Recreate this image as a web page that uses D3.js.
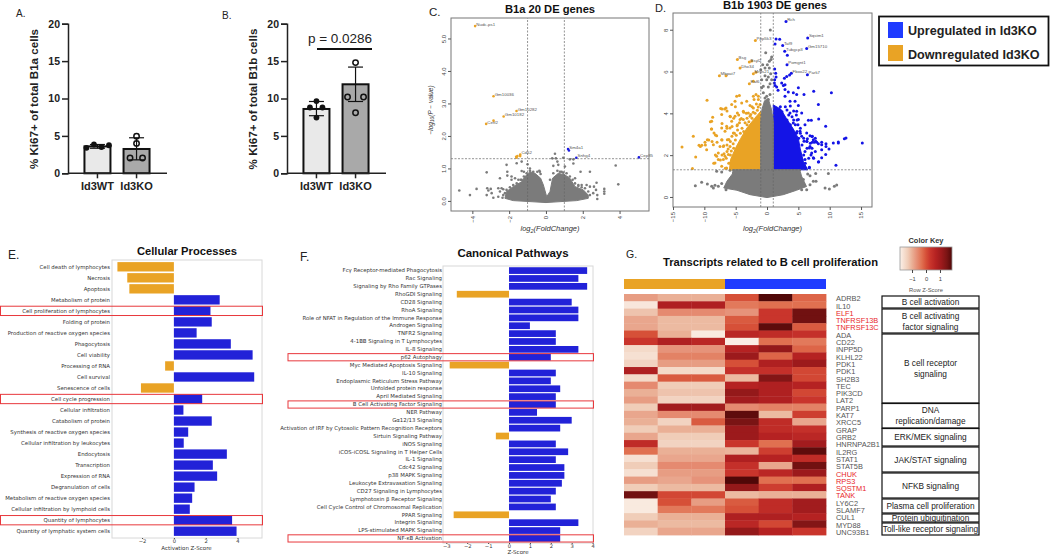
<!DOCTYPE html>
<html>
<head>
<meta charset="utf-8">
<script src="https://cdn.jsdelivr.net/npm/d3@7"></script>
<style>
  body { margin: 0; background: #fff; }
  svg { display: block; }
  text { font-family: "Liberation Sans", Arial, sans-serif; }
  .mpl text { font-family: "DejaVu Sans", sans-serif; }
</style>
</head>
<body>
<svg id="chart" width="1050" height="554"></svg>
<script>
// ---- panels A, B: bars with replicates
const barGroups = ['Id3WT', 'Id3KO']
const aMeans = [3.6, 3.25]
const aErrLow = [3.35, 1.8]
const aErrHigh = [3.85, 4.75]
const aWtPoints = [[-11, 3.4], [-3.5, 3.85], [4, 3.5], [11.5, 3.75]]
const aKoPoints = [[0, 4.95], [0, 4.0], [-6.5, 2.05], [6, 2.05]]
const bMeans = [8.6, 11.9]
const bErrLow = [7.7, 9.6]
const bErrHigh = [9.6, 14.2]
const bWtPoints = [[0, 9.65], [-6.5, 8.8], [6, 8.8], [0, 7.45]]
const bKoPoints = [[0, 14.8], [-8, 10.2], [8, 10.2], [0, 8.1]]

// ---- panel C: volcano B1a
const cCloudLeft = [[0.04,0.13],[-0.14,0.49],[-0.29,0.7],[-0.6,0.85],[-0.87,0.9],[-1.14,0.75],[-1.32,0.59],[-1.78,0.44],[-2.14,0.29],[-2.23,0.08],[-1.78,0.01],[0,-0.05]]
const cCloudRight = [[0.04,0.13],[0.22,0.29],[0.36,0.7],[0.67,0.85],[1.03,0.8],[1.3,0.7],[1.58,0.44],[2.03,0.34],[2.3,0.18],[2.3,0.08],[1.67,0.01],[0,-0.05]]
const cGray = [[-4.71,0.32],[-4.13,0.18],[-3.77,0.37],[-3.22,0.88],[-3.19,0.39],[-3,0.37],[-3.13,0.32],[-2.95,0.24],[-3.22,0.18],[-2.86,0.1],[-2.59,0.39],[-2.41,0.39],[-2.5,0.29],[-2.32,0.36],[-2.59,0.13],[-2.36,0.1],[-2.5,0.7],[-2.1,0.9],[-2.1,0.78],[-2.14,1.11],[-1.87,0.75],[-1.59,1.16],[-1.32,1.21],[-1,1.13],[-1.32,0.92],[-1.2,0.9],[-1.5,0.65],[-1.32,0.65],[0.49,1.45],[0.34,1.31],[0.62,1.21],[0.4,1.08],[0.67,1.11],[0.94,1.33],[0.54,1.31],[0.85,0.9],[1.03,1.06],[1.49,1.15],[1.88,0.9],[2.39,0.9],[1.3,1.28],[1.49,1.28],[3.79,1.09],[3.93,0.51],[2.75,0.56],[2.72,0.34],[3.17,0.37],[3.17,0.29],[3.17,0.22],[2.79,0.18],[2.79,0.06],[2.57,0.24],[1.76,0.49],[1.94,0.49],[2.21,0.49],[2.39,0.44],[2.61,0.44],[1.58,0.7],[-0.87,1],[-0.36,0.93],
  [-0.87,0.93],[-0.69,0.9],[-0.47,0.9],[-0.33,0.9],[-0.29,0.83],[-1.05,0.85],[-1.2,0.75],[-1.38,0.65],[-1.59,0.54],[-1.78,0.49],[-1.96,0.42],[-2.14,0.34],[-2.23,0.24],[0.22,0.65],[0.4,0.85],[0.62,0.93],[0.76,0.9],[0.94,0.87],[1.12,0.85],[1.3,0.75],[1.45,0.65],[1.58,0.54],[1.76,0.46],[1.94,0.42],[2.12,0.39],[2.3,0.29],[2.39,0.18],[-2.32,0.18],[-1.87,0.65],[-1.68,0.7]]
const cDown = [[-3.85,5.38,'Nudc-ps1'],[-2.85,3.22,'Gm10036'],[-1.6,2.77,'Gm10282'],[-2.3,2.6,'Gm10182'],[-3.25,2.37,'Cetf2'],[-2.85,2.47,''],[-1.4,1.43,'Cd52'],[-1.6,1.33,''],[-1.55,1.38,''],[-1.62,1.36,''],[-1.4,1.38,'']]
const cUp = [[1.2,1.6,'Sm4a1'],[1.25,1.55,''],[1.65,1.33,'Snhg4'],[5.05,1.34,'Cep85']]

// ---- panel D: volcano B1b
const dGrayLow = [[-5.5,1.3],[-5.4,1.15],[-6.4,0.75],[-6.9,0.43],[-4.8,0.32],[-2.7,0.11],[0,-0.03],[2.6,0.11],[4.7,0.32],[6.3,0.5],[5.5,1],[5.3,1.23],[5.4,1.3]]
const dGrayColumn = [[-1,1.3],[-1,3.6],[-0.8,4.2],[-0.4,4.6],[0.2,4.7],[0.7,4.2],[1,3.6],[1,1.3]]
const dOrangeDense = [[-1,1.3],[-6,1.3],[-5.8,1.8],[-5,2.35],[-4.2,2.8],[-3.2,3.3],[-2,3.75],[-1,4.1]]
const dBlueDense = [[1,1.3],[1,4.4],[2.2,4.2],[3.1,3.75],[4.2,3.25],[5,2.8],[5.3,2.3],[5.8,1.7],[6.5,1.3]]
const dGray = [[0.53,7.99],[-0.21,6.9],[0.74,6.7],[0.64,6.57],[0.37,6.49],[0.05,6.33],[-0.69,6.33],[-0.32,6.17],[0.37,6.17],[-1,6.09],[0.59,5.9],[-0.32,5.8],[0.21,5.74],[-0.85,5.61],[-0.05,5.61],[0.74,5.61],[0.48,5.42],[-0.59,5.3],[-0.85,5.22],[0.21,5.26],[-0.59,4.98],[-0.05,4.82],[0.48,4.9],[-0.32,4.74],[0.21,4.66],[-11.44,0.54],[-10.43,0.7],[-9.52,0.62],[-8.83,0.51],[-8.3,0.56],[-8.56,0.43],[-7.77,0.51],[-7.23,0.64],[-6.54,0.35],[-8.03,1.23],[-7.23,1.2],[-5.9,1.28],[-5.37,1.15],[-4.95,1.07],[6.49,1.1],[7.77,1.12],[9.79,1.12],[9.26,0.43],[9.95,0.38],[10.74,0.51],[11.12,0.57],[7.82,0.75],[7.39,0.75],[6.86,0.59],[6.33,0.35],[5.53,0.35],[6.86,1.02],[5,1.07],[4.2,1.15],[5.8,0.83]]
const dDown = [[-1.86,7.48,'Ppp5k3'],[-4.73,6.57,'Bsg'],[-2.82,6.46,'Bsyl2'],[-2.45,6.5,''],[-4.3,6.17,'Dhx34'],[-7.6,5.8,'Mbpat7'],[-6.54,5.8,''],[-2.18,5.9,'Mrps21'],[-1.76,5.96,''],[-2.82,5.42,'Eaf6'],[-2.18,5.53,''],
  [-9.57,4.63],[-7.39,4.23],[-6.54,4.26],[-8.67,3.81],[-7.23,3.94],[-5.9,3.86],[-8.83,3.62],[-8.83,3.25],[-8.46,3.06],[-11.76,2.9],[-9.52,2.74],[-9.89,2.62],[-10.4,2.47],[-10.85,2.47],[-13.56,2.39],[-11.38,1.91],[-11.9,1.36],[-9.63,2.26],[-8.03,2.93],[-7.23,2.74],[-8.56,2.5],[-7.5,2.42],[-7.77,2.1],[-8.03,1.95],[-8.3,1.63],[-6.97,1.79],[-7.77,1.79],[-7.23,1.47],
  [-4.84,4.82],[-4.41,4.85],[-5.64,4.42],[-5.1,4.58],[-4.04,4.5],[-3.24,4.58],[-2.71,4.37],[-2.18,4.82],[-1.76,4.9],[-1.38,4.82],[-2.07,4.66],[-1.38,4.66],[-4.73,4.02],[-3.78,4.1],[-2.98,4.02],[-5.64,3.62],[-5.1,3.86],[-4.3,3.7],[-5.9,3.3],[-6.44,3.38],[-6.7,3.14],[-7.23,3.3],[-5.37,3.06],[-6.33,2.74],[-6.97,2.42],[-5.9,2.42],[-6.17,2.03],[-6.7,1.95],[-5.9,1.63],[-6.44,1.39],[-6.86,2.07],[-4.73,3.46],[-3.78,3.7],[-2.71,3.86],[-2.18,4.26],[-1.54,4.15],[-1.12,4.42],
  [-7.18,4.21],[-6.75,4.21],[-6.38,4.11],[-5.05,4.32],[-3.72,4.05],[-2.39,4.32],[-5.85,3.84],[-5.32,3.76],[-4.52,3.92],[-3.19,3.76],[-9.04,3.6],[-8.88,3.25],[-7.18,3.52],[-6.38,3.29],[-5.58,3.37],[-4.78,3.41],[-3.99,3.29],[-8.24,2.97],[-9.3,2.73],[-10.63,2.41],[-9.83,2.49],[-8.77,2.65],[-7.97,2.62],[-7.18,2.73],[-6.38,2.49],[-5.85,2.65],[-5.05,2.73],[-8.24,2.01],[-7.18,2.01],[-8.5,1.61],[-7.44,1.77],[-6.38,2.17],[-5.85,2.01],[-5.32,2.33],[-6.65,1.37],[-4.25,3.05],[-3.72,3.13],[-3.19,3.45],[-2.39,3.76],[-1.86,3.52],[-6.11,1.61],
  [-4.7,3.2],[-4.4,3.55],[-5.2,3.05],[-5.6,2.9],[-4.9,2.95],[-6.1,2.75],[-5.4,2.55],[-6.9,2.45],[-6.2,2.3],[-6.5,1.85],[-5.7,2.2],[-3.5,3.55],[-2.9,3.6],[-2.6,3.95],[-3.3,4.0],[-1.9,4.0],[-1.4,4.3],[-4.1,3.75],[-2.2,4.05],[-1.7,4.45]]
const dUp = [[3.03,8.39,'Rch'],[1.44,7.56,''],[2.02,7.55,''],[6.49,7.61,'Sqstm1'],[1.28,7.32,''],[2.5,7.24,'Taf9'],[6.33,7.1,'Gm15710'],[2.82,6.97,'Tubgcp3'],[3.24,6.78,''],[3.19,6.33,'Pomgnt1'],[1.22,6.12,''],[1.38,5.92,''],[3.88,5.92,'Fbxo22'],[6.44,5.85,'Park7'],[3.6,5.83,''],[3.14,5.76,''],[2.77,5.68,''],
  [1.44,5.74],[1.22,5.61],[1.17,5.45],[2.34,5.45],[1.28,5.33],[2.61,5.33],[2.87,5.37],[1.54,5.26],[1.76,5.1],[2.87,5.14],[2.87,4.82],[3.4,5.02],[4.2,4.98],[5,5.22],[5.9,4.9],[7.45,5.06],[10.27,4.98],[8.19,4.42],[6.6,3.67],[7.07,3.67],[8.24,3.73],[9.36,3.38],[4.73,4.9],[5,4.37],[3.67,4.58],[4.47,4.58],[5.53,4.02],[6.06,3.46],[5,3.7],[4.73,4.1],[5.27,3.14],[6.33,3.06],
  [6.86,2.93],[7.23,2.9],[6.44,2.78],[7.39,2.74],[7.77,2.66],[7.23,2.62],[7.55,2.62],[7.93,2.62],[8.72,2.62],[8.72,2.5],[8.19,2.54],[9.41,2.55],[9.41,2.42],[10.58,2.58],[9.89,2.3],[11.38,2.63],[11.38,2.58],[12.34,2.78],[12.6,2.82],[15.2,2.58],[11,1.52],[9.36,2.03],[8.72,2.26],[8.72,1.87],[8.19,1.67],[6.86,2.42],[7.13,2.1],[7.39,1.87],[6.76,1.42],[5.9,2.66],[6.33,2.66],[6.76,2.34],[6.06,2.18],[6.06,1.79],[5.8,1.47],[5.53,2.9],[4.73,3.06],[4.2,3.54],[3.67,4.02],
  [1.33,4.24],[2.13,4.32],[2.92,4.32],[3.72,4.35],[3.19,4.16],[4.25,4.11],[2.39,4.08],[3.46,3.92],[3.99,3.84],[4.79,3.68],[3.19,3.68],[4.52,3.45],[5.32,3.29],[4.52,3.05],[5.32,3.05],[5.85,2.81],[6.38,2.65],[7.18,2.89],[6.91,2.57],[7.71,2.81],[6.38,2.33],[5.58,2.49],[7.18,2.33],[7.71,2.17],[5.85,2.01],[6.65,1.85],[7.44,1.85],[8.24,1.69],[7.02,2.01],[6.11,1.61],[5.58,1.77],[6.75,1.4],[6.11,1.37],[4.68,3.92],[5.05,2.81],[4.79,3.13],[4.25,3.68],[3.72,3.45],[4.94,3.45]]

// ---- panel E: cellular processes
const eTerms = ['Cell death of lymphocytes','Necrosis','Apoptosis','Metabolism of protein','Cell proliferation of lymphocytes','Folding of protein','Production of reactive oxygen species','Phagocytosis','Cell viability','Processing of RNA','Cell survival','Senescence of cells','Cell cycle progression','Cellular infiltration','Catabolism of protein','Synthesis of reactive oxygen species','Cellular infiltration by leukocytes','Endocytosis','Transcription','Expression of RNA','Degranulation of cells','Metabolism of reactive oxygen species','Cellular infiltration by lymphoid cells','Quantity of lymphocytes','Quantity of lymphatic system cells']
const eScores = [-3.55,-2.93,-2.8,2.88,2.3,2.38,1.43,3.58,4.95,-0.55,5.05,-2.07,1.78,0.6,2.38,0.9,0.62,3.33,2.45,2.72,1.3,1.15,1,3.66,3.94]
const eMarked = ['Cell proliferation of lymphocytes','Cell cycle progression','Quantity of lymphocytes']

// ---- panel F: canonical pathways
const fTerms = ['Fcγ Receptor-mediated Phagocytosis','Rac Signaling','Signaling by Rho Family GTPases','RhoGDI Signaling','CD28 Signaling ','RhoA Signaling','Role of NFAT in Regulation of the Immune Response','Androgen Signaling','TNFR2 Signaling','4-1BB Signaling in T Lymphocytes','IL-8 Signaling','p62 Autophagy','Myc Mediated Apoptosis Signaling','IL-10 Signaling','Endoplasmic Reticulum Stress Pathway','Unfolded protein response','April Mediated Signaling','B Cell Activating Factor Signaling','NER Pathway','Gα12/13 Signaling','Activation of IRF by Cytosolic Pattern Recognition Receptors','Sirtuin Signaling Pathway','iNOS Signaling','iCOS-iCOSL Signaling in T Helper Cells','IL-1 Signaling','Cdc42 Signaling','p38 MAPK Signaling','Leukocyte Extravasation Signaling','CD27 Signaling in Lymphocytes','Lymphotoxin β Receptor Signaling','Cell Cycle Control of Chromosomal Replication','PPAR Signaling','Integrin Signaling','LPS-stimulated MAPK Signaling','NF-κB Activation']
const fScores = [3.74,3.32,3.74,-2.5,3,3.32,3.32,1,2.24,2.24,3.32,2,-2.84,2.24,2,2.45,2.24,2.24,1.34,3,2.45,-0.63,2.24,2.83,2.24,2.65,2.65,2.53,2.24,2,2.24,-2.65,3.32,2.45,2.45]
const fMarked = ['p62 Autophagy','B Cell Activating Factor Signaling','NF-κB Activation']

// ---- panel G: heatmap
const genes = ['ADRB2','IL10','ELF1','TNFRSF13B','TNFRSF13C','ADA','CD22','INPP5D','KLHL22','PDK1','PDK1 ','SH2B3','TEC','PIK3CD','LAT2','PARP1','KAT7','XRCC5','GRAP','GRB2','HNRNPA2B1','IL2RG','STAT1','STAT5B','CHUK','RPS3','SQSTM1','TANK','LY6C2','SLAMF7','CUL1','MYD88','UNC93B1']
const redGenes = ['ELF1','TNFRSF13B','TNFRSF13C','CHUK','RPS3','SQSTM1','TANK']
const samples = ['KO1','KO2','KO3','WT1','WT2','WT3']
const rowZ = [
  [-0.8,-1,-1,0,2,-0.2],[-1.7,0.8,0.8,-0.4,-0.3,-0.3],[-1.2,-0.6,-0.6,-0.7,0.3,1.6],[-0.9,-1.1,-1.1,-0.1,0.3,1.6],
  [-0.9,-1.1,-1.1,0,1.8,-0.1],[0,-1,-1.75,0.6,0.5,0.4],[0.3,0.8,0.6,-1.8,-0.3,-0.4],[-1.5,-0.7,-0.7,0.7,1.2,-0.2],
  [-1.6,-0.5,-0.5,1.1,-0.2,0.7],[-1.4,-0.8,-0.8,0,0.8,1.1],[0.8,-1.5,-1.5,0.4,0.4,0.1],[-1.5,-0.1,-0.1,-1.1,1.4,0.1],
  [-0.6,-1.3,-1.3,0.7,0.8,0.7],[-1,-1.2,-1.2,1.2,0.8,0.1],[-0.8,-1.4,-1.4,1,0.8,0.3],[-1.3,1,1,-0.6,-0.5,-0.5],
  [-0.9,-0.6,-0.6,1.8,-1.1,0.2],[-1,-1.4,-0.1,1.5,0.5,-0.9],[-1.3,-1,-1,1.1,0.5,0.4],[-0.9,-1.3,-1.3,1.1,0.7,0.6],
  [0.5,-1.4,-1.4,0.3,-0.3,1],[-0.3,-1,-1,-1.05,0.2,1.8],[-1.6,-0.9,-0.9,0.8,0.7,0.5],[-1.3,-0.6,-0.6,0.4,-0.9,1.6],
  [-1.6,-0.8,-0.8,0.3,0.6,1.1],[-0.8,-0.9,-0.7,2.1,-0.3,-0.3],[-1.3,-1.1,-1.1,1.2,0.2,0.8],[1.6,0.1,0.1,-1.1,-1,-1],
  [-1.75,0,-0.8,-0.1,0.5,1],[-1.75,-0.4,-0.4,0,0.5,1],[-1.3,-1,-1,0.8,0.8,0.7],[-1,-1.1,-1.1,0.6,0.1,1.4],[-1.4,-0.9,-0.9,1.2,0.7,0.3]]
const keyTicks = [-1, 0, 1]
const pathwayNames = [['B cell activation'],['B cell activating','factor signaling'],['B cell receptor','signaling'],['DNA','replication/damage'],['ERK/MEK signaling'],['JAK/STAT signaling'],['NFKB signaling'],['Plasma cell proliferation'],['Protein ubiquitination'],['Toll-like receptor signaling']]
const legendNames = ['Upregulated in Id3KO', 'Downregulated Id3KO']

const ORANGE = '#e9a325', BLUE = '#2222d8', LEG_BLUE = '#1f3bff'
const svg = d3.select('#chart')

function panelLetter(s, x, y, size) {
  svg.append('text').attr('x', x).attr('y', y).attr('font-size', size).attr('fill', '#222').text(s)
}
function title(s, x, y, size) {
  svg.append('text').attr('x', x).attr('y', y).attr('font-size', size).attr('font-weight', 'bold')
    .attr('text-anchor', 'middle').attr('fill', '#111').text(s)
}

panelLetter('A.', 16, 17, 10)
panelLetter('B.', 222, 19, 10)
panelLetter('C.', 429, 16, 11.5)
panelLetter('D.', 655, 12, 11)
panelLetter('E.', 8, 259, 12)
panelLetter('F.', 300, 261, 12)
panelLetter('G.', 626, 258, 10.5)

// ---- bar panels
function drawBars(left, right, label, means, errLow, errHigh, wt, ko) {
  let g = svg.append('g')
  let y = d3.scaleLinear().domain([0, 20]).range([173.3, 23.7])
  let x = d3.scaleBand().domain(barGroups).range([left + 6, left + 92]).padding(0.2)
  let cx = d => x(d) + x.bandwidth() / 2

  g.selectAll('rect').data(barGroups).join('rect')
    .attr('x', d => cx(d) - 13)
    .attr('width', 26)
    .attr('y', (d, i) => y(means[i]))
    .attr('height', (d, i) => y(0) - y(means[i]))
    .attr('fill', (d, i) => i == 0 ? '#e9e9e9' : '#a9a9a9')
    .attr('stroke', '#111').attr('stroke-width', 2)

  barGroups.forEach((d, i) => {
    g.append('line').attr('x1', cx(d)).attr('x2', cx(d)).attr('y1', y(errLow[i])).attr('y2', y(errHigh[i]))
      .attr('stroke', '#111').attr('stroke-width', 1.2)
    ;[errLow[i], errHigh[i]].forEach(v => {
      g.append('line').attr('x1', cx(d) - 7.5).attr('x2', cx(d) + 7.5).attr('y1', y(v)).attr('y2', y(v))
        .attr('stroke', '#111').attr('stroke-width', 1.2)
    })
  })

  g.selectAll('circle.wt').data(wt).join('circle').attr('class', 'wt')
    .attr('cx', d => cx('Id3WT') + d[0]).attr('cy', d => y(d[1])).attr('r', 2.9).attr('fill', '#111')
  g.selectAll('circle.ko').data(ko).join('circle').attr('class', 'ko')
    .attr('cx', d => cx('Id3KO') + d[0]).attr('cy', d => y(d[1])).attr('r', 2.7)
    .attr('fill', 'none').attr('stroke', '#111').attr('stroke-width', 1.5)

  let yAxis = g.append('g').attr('transform', 'translate(' + left + ',0)')
    .call(d3.axisLeft(y).tickValues([0, 5, 10, 15, 20]).tickSize(6).tickPadding(2))
  let xAxis = g.append('g').attr('transform', 'translate(0,' + y(0) + ')')
    .call(d3.axisBottom(x).tickSize(5).tickPadding(4))
  xAxis.select('.domain').attr('d', 'M' + left + ',0H' + right)
  for (let a of [yAxis, xAxis]) {
    a.selectAll('path,line').attr('stroke', '#222').attr('stroke-width', 1.5)
    a.selectAll('text').attr('font-family', '"Liberation Sans"').attr('font-weight', 'bold').attr('fill', '#222')
  }
  yAxis.selectAll('text').attr('font-size', 10.5)
  xAxis.selectAll('text').attr('font-size', 11)

  g.append('text').attr('transform', 'translate(' + (left - 30) + ',99) rotate(-90)')
    .attr('text-anchor', 'middle').attr('font-size', 11.6).attr('font-weight', 'bold').attr('fill', '#222').text(label)
}
drawBars(68, 167, '% Ki67+ of total B1a cells', aMeans, aErrLow, aErrHigh, aWtPoints, aKoPoints)
drawBars(287, 386, '% Ki67+ of total B1b cells', bMeans, bErrLow, bErrHigh, bWtPoints, bKoPoints)
svg.append('text').attr('x', 340).attr('y', 43).attr('font-size', 13.5).attr('text-anchor', 'middle').attr('fill', '#222').text('p = 0.0286')
svg.append('line').attr('x1', 317).attr('x2', 372).attr('y1', 49).attr('y2', 49).attr('stroke', '#111').attr('stroke-width', 2)

// ---- volcano panels
function drawVolcano(opt) {
  let g = svg.append('g')
  let x = opt.x, y = opt.y
  let shape = d3.line().x(d => x(d[0])).y(d => y(d[1]))

  opt.dots.forEach(s => {
    g.append('g').selectAll('circle').data(s.points).join('circle')
      .attr('cx', d => x(d[0])).attr('cy', d => y(d[1])).attr('r', opt.r).attr('fill', s.color)
  })
  opt.areas.forEach(a => {
    g.append('path').attr('d', shape(a.points) + 'Z').attr('fill', a.color).attr('stroke', a.color).attr('stroke-width', 1)
  })
  opt.dots.forEach(s => {
    g.append('g').selectAll('text').data(s.points.filter(d => d[2])).join('text')
      .attr('x', d => x(d[0]) + 1.2).attr('y', d => y(d[1]) - 0.4)
      .attr('font-size', 4.4).attr('font-family', '"DejaVu Sans"').attr('fill', '#555').text(d => d[2])
  })

  let [x0, x1] = x.range(), [y0, y1] = y.range()
  let dash = (a, b, c, d) => g.append('line').attr('x1', a).attr('y1', b).attr('x2', c).attr('y2', d)
    .attr('stroke', '#666').attr('stroke-width', 0.7).attr('stroke-dasharray', '2,1.5')
  dash(x0, y(1.3), x1, y(1.3))
  dash(x(-1), y0, x(-1), y1)
  dash(x(1), y0, x(1), y1)

  g.append('rect').attr('x', x0).attr('y', y1).attr('width', x1 - x0).attr('height', y0 - y1)
    .attr('fill', 'none').attr('stroke', '#777').attr('stroke-width', 1)

  let bottom = g.append('g').attr('transform', 'translate(0,' + y0 + ')')
    .call(d3.axisBottom(x).tickValues(opt.xTicks).tickSize(3).tickPadding(2))
  let leftAxis = g.append('g').attr('transform', 'translate(' + x0 + ',0)')
    .call(d3.axisLeft(y).tickValues(opt.yTicks).tickSize(3).tickPadding(2))
  bottom.select('.domain').remove()
  leftAxis.select('.domain').remove()
  bottom.selectAll('line').attr('stroke', '#555')
  leftAxis.selectAll('line').attr('stroke', '#555')
  bottom.selectAll('text').attr('font-size', 6).attr('fill', '#444').attr('font-family', '"DejaVu Sans"')
    .attr('transform', 'rotate(-90)').attr('text-anchor', 'end').attr('x', -5).attr('y', 0).attr('dy', '0.32em')
  leftAxis.selectAll('text').attr('font-size', 6).attr('fill', '#444').attr('font-family', '"DejaVu Sans"')
    .attr('text-anchor', 'middle').attr('transform', 'rotate(-90,-5,0)')
    .attr('x', -5).attr('y', 0).attr('dy', 0)

  let xl = g.append('text').attr('x', (x0 + x1) / 2).attr('y', 231).attr('text-anchor', 'middle')
    .attr('font-size', 7.5).attr('font-style', 'italic').attr('font-family', '"DejaVu Sans"').attr('fill', '#333')
  xl.append('tspan').text('log')
  xl.append('tspan').attr('dy', 1.5).attr('font-size', 5.5).text('2')
  xl.append('tspan').attr('dy', -1.5).text('(FoldChange)')
}

drawVolcano({
  x: d3.scaleLinear().domain([-5.16, 5.6]).range([451, 649]),
  y: d3.scaleLinear().domain([-0.31, 5.63]).range([211, 18]),
  xTicks: [-4, -2, 0, 2, 4], yTicks: [0, 1, 2, 3, 4, 5], r: 1.3,
  areas: [{ points: cCloudLeft, color: '#7b7b7b' }, { points: cCloudRight, color: '#7b7b7b' }],
  dots: [{ points: cGray, color: '#7b7b7b' }, { points: cDown, color: ORANGE }, { points: cUp, color: '#1a1ae0' }]
})
let cy = svg.append('text').attr('transform', 'translate(433,110) rotate(-90)').attr('text-anchor', 'middle')
  .attr('font-size', 6.5).attr('font-style', 'italic').attr('font-family', '"DejaVu Sans"').attr('fill', '#333')
cy.append('tspan').text('\u2212log')
cy.append('tspan').attr('dy', 1.2).attr('font-size', 4.8).text('10')
cy.append('tspan').attr('dy', -1.2).text('(P \u2212 value)')

drawVolcano({
  x: d3.scaleLinear().domain([-15.0, 16.75]).range([673, 872]),
  y: d3.scaleLinear().domain([-0.48, 8.8]).range([207, 13]),
  xTicks: [-15, -10, -5, 0, 5, 10, 15], yTicks: [0, 2, 4, 6, 8], r: 1.5,
  areas: [{ points: dOrangeDense, color: ORANGE }, { points: dBlueDense, color: '#1414e6' },
    { points: dGrayLow, color: '#7b7b7b' }, { points: dGrayColumn, color: '#7b7b7b' }],
  dots: [{ points: dGray, color: '#7b7b7b' }, { points: dDown, color: ORANGE }, { points: dUp, color: '#1414e6' }]
})

title('B1a 20 DE genes', 550, 13, 11.2)
title('B1b 1903 DE genes', 775, 9, 11.3)

// ---- legend
svg.append('rect').attr('x', 879).attr('y', 16.5).attr('width', 169.5).attr('height', 49)
  .attr('fill', '#fff').attr('stroke', '#111').attr('stroke-width', 1.8)
legendNames.forEach((d, i) => {
  svg.append('rect').attr('x', 888).attr('y', 22 + i * 23).attr('width', 15).attr('height', 16)
    .attr('fill', i == 0 ? LEG_BLUE : ORANGE)
  svg.append('text').attr('x', 908).attr('y', 35 + i * 24).attr('font-size', 12.6).attr('font-family', 'Lato')
    .attr('font-weight', 'bold').attr('fill', '#222').text(d)
})

// ---- horizontal bar panels
function drawZBars(terms, scores, marked, x, yRange, boxTop, boxBottom, markLeft, markH, labelX, xTicks, axisLabel, axisLabelX, axisLabelY) {
  let g = svg.append('g').attr('class', 'mpl')
  let y = d3.scaleBand().domain(terms).range(yRange).padding(0.15)
  let x0 = x.range()[0], x1 = x.range()[1]

  g.append('rect').attr('x', x0).attr('y', boxTop).attr('width', x1 - x0).attr('height', boxBottom - boxTop)
    .attr('fill', 'none').attr('stroke', '#d8d8d8').attr('stroke-width', 1)

  g.selectAll('rect.bar').data(terms).join('rect').attr('class', 'bar')
    .attr('x', (d, i) => Math.min(x(0), x(scores[i])))
    .attr('width', (d, i) => Math.abs(x(scores[i]) - x(0)))
    .attr('y', d => y(d))
    .attr('height', y.bandwidth())
    .attr('fill', (d, i) => scores[i] < 0 ? ORANGE : BLUE)

  let labels = g.append('g').attr('transform', 'translate(' + labelX + ',0)').call(d3.axisLeft(y).tickSize(0).tickPadding(0))
  labels.select('.domain').remove()
  labels.selectAll('text').attr('font-size', 5.4).attr('fill', '#333').attr('font-family', '"DejaVu Sans"')

  let axis = g.append('g').attr('transform', 'translate(0,' + boxBottom + ')')
    .call(d3.axisBottom(x).tickValues(xTicks).tickSize(1).tickPadding(0).tickFormat(d3.format('d')))
  axis.select('.domain').remove()
  axis.selectAll('line').attr('stroke', '#444')
  axis.selectAll('text').attr('font-size', 5.2).attr('fill', '#333').attr('font-family', '"DejaVu Sans"')

  g.append('text').attr('x', axisLabelX).attr('y', axisLabelY).attr('text-anchor', 'middle')
    .attr('font-size', 5.5).attr('fill', '#333').attr('font-family', '"DejaVu Sans"').text(axisLabel)

  g.selectAll('rect.mark').data(marked).join('rect').attr('class', 'mark')
    .attr('x', markLeft).attr('width', x1 - markLeft + 0.5)
    .attr('y', d => y(d) + y.bandwidth() / 2 - markH / 2).attr('height', markH)
    .attr('fill', 'none').attr('stroke', '#e8383c').attr('stroke-width', 1)
}

drawZBars(eTerms, eScores, eMarked, d3.scaleLinear().domain([-3.89, 5.54]).range([112, 262]), [260.46, 537.54],
  260, 538, 0.5, 9.3, 110, [-2, 0, 2, 4], 'Activation Z-Score', 186.5, 549.5)
drawZBars(fTerms, fScores, fMarked, d3.scaleLinear().domain([-3.16, 4.02]).range([443, 593]), [266.05, 542.95],
  266, 543, 288, 7.2, 442, [-3, -2, -1, 0, 1, 2, 3, 4], 'Z-Score', 518, 554)
title('Cellular Processes', 187, 255, 11.2)
title('Canonical Pathways', 513, 257, 11.5)

// ---- heatmap
const heatColor = d3.scaleLinear()
  .domain([-1.85, -1.3, -1, -0.7, -0.3, 0, 0.3, 0.7, 1.1, 1.5, 1.95])
  .range(['#fbf0e8', '#f0cdb8', '#eab096', '#e6937a', '#e07050', '#d65038', '#c9352c', '#b52222', '#9c1a1c', '#7a1414', '#500808'])
  .clamp(true)

let hx = d3.scaleBand().domain(samples).range([624, 826])
let hy = d3.scaleBand().domain(genes).range([294, 535])
let heat = svg.append('g')
genes.forEach((gene, r) => {
  heat.append('g').selectAll('rect').data(samples).join('rect')
    .attr('x', d => hx(d)).attr('y', hy(gene))
    .attr('width', hx.bandwidth() + 0.4).attr('height', hy.bandwidth() + 0.4)
    .attr('fill', (d, c) => heatColor(rowZ[r][c]))
})
heat.append('rect').attr('x', hx('KO1')).attr('y', 279).attr('width', 3 * hx.bandwidth()).attr('height', 10).attr('fill', ORANGE)
heat.append('rect').attr('x', hx('WT1')).attr('y', 279).attr('width', 3 * hx.bandwidth()).attr('height', 10).attr('fill', LEG_BLUE)

svg.append('g').selectAll('text').data(genes).join('text')
  .attr('x', 836).attr('y', d => hy(d) + hy.bandwidth() / 2 + 3.6)
  .attr('font-size', 7.4).attr('fill', d => redGenes.includes(d) ? '#e8252a' : '#555').text(d => d)

title('Transcripts related to B cell proliferation', 770.5, 266, 11.2)

// ---- colour key
let keyZ = d3.scaleLinear().domain([-1.86, 1.86]).range([900, 952])
let gradient = svg.append('defs').append('linearGradient').attr('id', 'keyGradient')
gradient.selectAll('stop').data(heatColor.domain()).join('stop')
  .attr('offset', d => (keyZ(Math.min(d, 1.86)) - 900) / 52).attr('stop-color', d => heatColor(d))
svg.append('rect').attr('x', 900).attr('y', 247).attr('width', 52).attr('height', 23)
  .attr('fill', 'url(#keyGradient)').attr('stroke', '#999').attr('stroke-width', 0.8)
let keyAxis = svg.append('g').attr('transform', 'translate(0,270)')
  .call(d3.axisBottom(keyZ).tickValues(keyTicks).tickSize(3).tickPadding(4).tickFormat(d3.format('d')))
keyAxis.select('.domain').remove()
keyAxis.selectAll('line').attr('stroke', '#444')
keyAxis.selectAll('text').attr('font-size', 5.8).attr('fill', '#444').attr('font-family', '"Liberation Sans"')
svg.append('text').attr('x', 926).attr('y', 243).attr('text-anchor', 'middle').attr('font-size', 7.4).attr('font-weight', 'bold').attr('fill', '#333').text('Color Key')
svg.append('text').attr('x', 926).attr('y', 292).attr('text-anchor', 'middle').attr('font-size', 5.8).attr('fill', '#555').text('Row Z-Score')

// ---- pathway boxes next to gene names
const boxTops = [296, 309, 334, 403.5, 428.5, 447, 473, 499, 514, 523]
const boxBottoms = [308, 333, 403, 428, 446, 472, 498, 513, 522, 535]
pathwayNames.forEach((lines, i) => {
  let top = boxTops[i], bottom = boxBottoms[i], mid = (top + bottom) / 2
  svg.append('rect').attr('x', 882).attr('y', top).attr('width', 97).attr('height', bottom - top)
    .attr('fill', '#fff').attr('stroke', '#111').attr('stroke-width', 1.2)
  lines.forEach((s, k) => {
    svg.append('text').attr('x', 930.5).attr('y', mid + 3 + (k - (lines.length - 1) / 2) * 11)
      .attr('text-anchor', 'middle').attr('font-size', 8.3).attr('fill', '#222').text(s)
  })
})
</script>
</body>
</html>
